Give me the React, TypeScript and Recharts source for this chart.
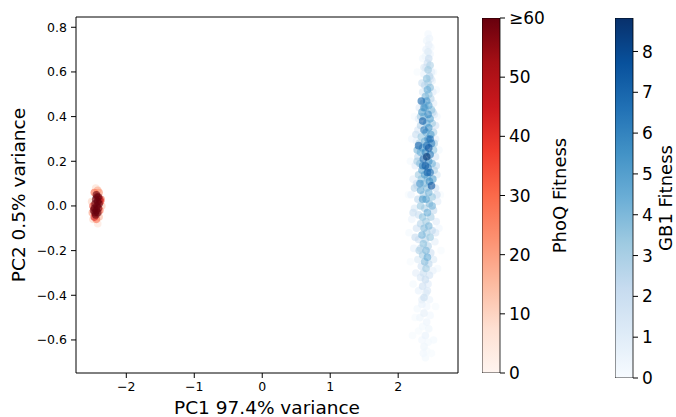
import { ScatterChart, Scatter, XAxis, YAxis, ReferenceArea, BarChart, Bar } from "recharts";

// matplotlib "Blues" / "Reds" colormap stops
const BLUES = ["#f7fbff", "#deebf7", "#c6dbef", "#9ecae1", "#6baed6", "#4292c6", "#2171b5", "#08519c", "#08306b"];
const REDS = ["#fff5f0", "#fee0d2", "#fcbba1", "#fc9272", "#fb6a4a", "#ef3b2c", "#cb181d", "#a50f15", "#67000d"];

const X_TICKS = [-2, -1, 0, 1, 2];
const Y_TICKS = [-0.6, -0.4, -0.2, 0, 0.2, 0.4, 0.6, 0.8];
const PHOQ_TICKS = [0, 10, 20, 30, 40, 50, 60];
const GB1_TICKS = [0, 1, 2, 3, 4, 5, 6, 7, 8];
const PHOQ_MAX = 60;
const GB1_MAX = 8.82;

// [pc1, pc2, fitness]
const phoqPoints: [number, number, number][] = [
  [-2.44, 0.05, 70], [-2.41, 0.04, 65], [-2.45, 0.03, 72], [-2.42, 0.02, 80], [-2.46, 0.01, 68],
  [-2.43, 0.0, 75], [-2.4, 0.01, 62], [-2.47, -0.01, 66], [-2.44, -0.02, 78], [-2.46, -0.03, 64],
  [-2.42, -0.03, 61], [-2.45, -0.04, 70], [-2.48, -0.02, 58], [-2.43, 0.04, 55], [-2.39, 0.03, 50],
  [-2.41, -0.01, 57], [-2.38, 0.02, 38], [-2.37, 0.03, 25], [-2.47, 0.06, 30], [-2.42, 0.07, 18],
  [-2.49, 0.0, 35], [-2.5, -0.03, 20], [-2.47, -0.05, 42], [-2.44, -0.06, 28], [-2.4, -0.05, 15],
  [-2.39, -0.02, 30], [-2.51, 0.02, 10], [-2.45, 0.08, 8], [-2.36, 0.0, 12], [-2.49, -0.06, 9],
  [-2.42, -0.08, 6], [-2.4, 0.06, 22],
];

const gb1Upper: [number, number, number][] = [
  [2.44, 0.77, 0.3], [2.46, 0.75, 0.5], [2.42, 0.74, 0.4], [2.45, 0.72, 0.8], [2.48, 0.71, 0.3],
  [2.41, 0.7, 0.6], [2.44, 0.69, 1.2], [2.47, 0.68, 0.5], [2.4, 0.67, 0.4],
  [2.45, 0.66, 2.2], [2.43, 0.64, 1.8], [2.47, 0.63, 2.8], [2.41, 0.62, 1.4], [2.44, 0.61, 3.2],
  [2.49, 0.6, 1.0], [2.38, 0.59, 0.6], [2.46, 0.58, 2.6], [2.42, 0.57, 3.6], [2.5, 0.56, 0.8], [2.44, 0.55, 3.0],
  [2.39, 0.54, 2.4], [2.47, 0.53, 3.8], [2.43, 0.52, 4.4], [2.36, 0.51, 1.2], [2.51, 0.51, 1.0],
  [2.45, 0.5, 3.4], [2.4, 0.49, 4.0], [2.48, 0.48, 2.6], [2.42, 0.47, 5.2], [2.34, 0.47, 6.8],
  [2.52, 0.46, 0.8], [2.37, 0.46, 3.0], [2.45, 0.45, 4.6],
  [2.31, 0.44, 1.0], [2.4, 0.44, 4.2], [2.49, 0.43, 3.6], [2.35, 0.42, 5.0], [2.44, 0.41, 5.8],
  [2.53, 0.41, 1.2], [2.38, 0.4, 3.8], [2.47, 0.39, 4.8], [2.3, 0.39, 0.8], [2.36, 0.38, 7.2],
  [2.42, 0.37, 4.4], [2.5, 0.37, 3.2], [2.33, 0.36, 2.6], [2.45, 0.35, 5.4],
];

const gb1Middle: [number, number, number][] = [
  [2.38, 0.34, 6.2], [2.29, 0.34, 1.4], [2.52, 0.33, 2.8], [2.41, 0.33, 4.6], [2.48, 0.32, 5.0],
  [2.34, 0.31, 3.4], [2.44, 0.3, 5.8], [2.55, 0.3, 0.9], [2.27, 0.29, 0.7], [2.39, 0.29, 4.2],
  [2.49, 0.28, 6.0], [2.31, 0.28, 2.8], [2.3, 0.27, 7.0], [2.45, 0.26, 7.6], [2.36, 0.26, 5.2], [2.42, 0.27, 6.6],
  [2.52, 0.25, 3.6], [2.33, 0.24, 4.4], [2.4, 0.24, 5.8], [2.47, 0.23, 6.4], [2.42, 0.22, 8.6],
  [2.29, 0.22, 2.4], [2.55, 0.22, 1.6], [2.37, 0.21, 6.8], [2.45, 0.2, 5.4], [2.5, 0.19, 4.2],
  [2.32, 0.19, 3.8], [2.4, 0.18, 7.4], [2.25, 0.18, 1.0], [2.44, 0.17, 6.2], [2.35, 0.16, 4.6], [2.53, 0.16, 2.8],
  [2.47, 0.15, 6.6], [2.3, 0.14, 3.2], [2.39, 0.14, 5.0], [2.57, 0.14, 1.2], [2.43, 0.13, 4.4],
  [2.22, 0.12, 0.8], [2.34, 0.12, 3.6], [2.51, 0.12, 4.8], [2.46, 0.11, 5.6], [2.38, 0.1, 4.0],
  [2.49, 0.09, 7.6], [2.28, 0.09, 2.2], [2.42, 0.08, 3.8], [2.55, 0.08, 1.8], [2.33, 0.07, 4.6], [2.45, 0.06, 4.2],
  [2.19, 0.05, 0.6], [2.37, 0.05, 3.0], [2.5, 0.04, 3.4], [2.29, 0.03, 2.4], [2.41, 0.03, 4.8],
  [2.58, 0.02, 0.9], [2.46, 0.01, 3.8], [2.33, 0.0, 3.4], [2.24, -0.01, 1.2], [2.39, -0.01, 2.8],
  [2.52, -0.02, 2.2], [2.43, -0.03, 4.4], [2.3, -0.04, 2.0], [2.48, -0.05, 3.0], [2.36, -0.05, 3.6],
];

const gb1Lower: [number, number, number][] = [
  [2.2, -0.06, 0.5], [2.56, -0.07, 1.0], [2.41, -0.07, 3.2], [2.33, -0.08, 2.6], [2.45, -0.09, 4.0],
  [2.27, -0.1, 1.6], [2.38, -0.1, 3.8], [2.5, -0.11, 2.4], [2.42, -0.12, 2.8], [2.35, -0.13, 4.2],
  [2.47, -0.14, 3.4], [2.3, -0.15, 1.8], [2.4, -0.15, 2.6], [2.54, -0.16, 0.8],
  [2.37, -0.17, 3.6], [2.44, -0.18, 2.6], [2.23, -0.19, 0.6], [2.33, -0.19, 2.2], [2.41, -0.2, 4.0],
  [2.48, -0.21, 1.8], [2.36, -0.22, 3.0], [2.43, -0.23, 4.4], [2.29, -0.24, 1.2], [2.39, -0.25, 3.8],
  [2.45, -0.26, 2.4], [2.34, -0.27, 1.6], [2.41, -0.28, 3.2], [2.51, -0.29, 0.7], [2.37, -0.3, 2.0],
  [2.33, -0.32, 1.4], [2.4, -0.33, 2.2], [2.44, -0.35, 1.0], [2.36, -0.36, 1.8], [2.3, -0.38, 0.6],
  [2.41, -0.39, 1.2], [2.38, -0.41, 2.0], [2.46, -0.42, 0.5],
  [2.35, -0.44, 0.6], [2.42, -0.45, 0.3], [2.28, -0.46, 0.2], [2.38, -0.48, 0.8], [2.47, -0.49, 0.3],
  [2.32, -0.5, 0.4], [2.42, -0.52, 0.5], [2.36, -0.54, 0.2], [2.45, -0.55, 0.4], [2.3, -0.56, 0.1],
  [2.4, -0.58, 0.6], [2.35, -0.6, 0.3], [2.44, -0.61, 0.2], [2.38, -0.63, 0.4], [2.42, -0.65, 0.1],
  [2.37, -0.66, 0.3], [2.4, -0.68, 0.2],
];

// extra mid-fitness points widening the cloud
const gb1Spread: [number, number, number][] = [
  [2.26, 0.32, 2.0], [2.55, 0.36, 1.6], [2.28, 0.2, 3.0], [2.56, 0.18, 2.2], [2.24, 0.08, 2.6],
  [2.57, 0.05, 1.8], [2.22, -0.03, 2.0], [2.55, -0.12, 1.4], [2.25, -0.14, 2.2], [2.52, -0.24, 1.2],
  [2.26, -0.3, 0.9], [2.33, 0.4, 3.0], [2.51, 0.42, 2.4], [2.35, 0.55, 2.0], [2.48, 0.57, 1.6],
  [2.38, 0.62, 1.2], [2.27, 0.1, 1.8], [2.53, 0.28, 3.0], [2.31, -0.2, 2.8], [2.46, -0.31, 1.6],
  [2.43, -0.38, 1.4], [2.35, -0.42, 0.8], [2.28, 0.25, 4.0], [2.5, 0.0, 4.2], [2.32, 0.1, 5.2],
  [2.36, 0.18, 6.0], [2.47, 0.3, 6.8], [2.38, 0.44, 5.6], [2.43, 0.15, 7.0], [2.36, 0.03, 5.0],
];

// faint low-fitness halo around the GB1 cloud
const gb1Halo: [number, number, number][] = [
  [2.18, 0.2, 0.2], [2.2, 0.3, 0.3], [2.15, 0.05, 0.1], [2.16, -0.12, 0.2], [2.18, -0.25, 0.1],
  [2.22, -0.35, 0.2], [2.25, -0.5, 0.1], [2.6, 0.25, 0.2], [2.62, 0.05, 0.1], [2.6, -0.1, 0.3],
  [2.58, -0.28, 0.2], [2.55, -0.45, 0.1], [2.52, -0.6, 0.2], [2.57, 0.4, 0.3], [2.52, 0.6, 0.2],
  [2.36, 0.66, 0.2], [2.24, 0.4, 0.1], [2.63, -0.2, 0.1], [2.21, -0.58, 0.1], [2.49, -0.66, 0.1],
  [2.28, 0.6, 0.1], [2.56, 0.52, 0.2],
];

const hex = (h: string) => [1, 3, 5].map((i) => parseInt(h.slice(i, i + 2), 16));

function cmap(stops: string[], t: number) {
  const c = Math.max(0, Math.min(1, t)) * (stops.length - 1);
  const i = Math.min(Math.floor(c), stops.length - 2);
  const f = c - i;
  const a = hex(stops[i]);
  const b = hex(stops[i + 1]);
  const rgb = a.map((v, k) => Math.round(v + (b[k] - v) * f));
  return `rgb(${rgb.join(",")})`;
}

const toPoints = (arr: [number, number, number][]) =>
  arr.map(([x, y, f]) => ({ x, y, f })).sort((p, q) => p.f - q.f);

const gb1Data = toPoints([...gb1Halo, ...gb1Lower, ...gb1Upper, ...gb1Middle, ...gb1Spread]);
const phoqData = toPoints(phoqPoints);

const makeDot = (stops: string[], vmax: number) => (props: any) => {
  const { cx, cy, payload } = props;
  return <circle cx={cx} cy={cy} r={3.8} fill={cmap(stops, payload.f / vmax)} fillOpacity={0.62} />;
};

const minus = (s: string) => s.replace("-", "\u2212");
const tickStyle = { fontSize: 12.5, fill: "#000" };

function ColorBar({ id, stops, max, ticks, label, left, bottom, width, labelOffset, fmt }: any) {
  return (
    <div style={{ position: "absolute", left, top: 0 }}>
      <BarChart
        width={width}
        height={417}
        data={[{ name: "c", v: max }]}
        margin={{ top: 18, right: 0, bottom, left: 0 }}
        barCategoryGap={0}
      >
        <defs>
          <linearGradient id={id} x1="0" y1="1" x2="0" y2="0">
            {stops.map((c: string, i: number) => (
              <stop key={i} offset={i / (stops.length - 1)} stopColor={c} />
            ))}
          </linearGradient>
        </defs>
        <XAxis dataKey="name" hide />
        <YAxis
          orientation="right"
          type="number"
          domain={[0, max]}
          allowDataOverflow
          ticks={ticks}
          interval={0}
          width={width - 18}
          tickFormatter={fmt}
          tick={{ fontSize: 17, fill: "#000" }}
          tickLine={{ stroke: "#000" }}
          axisLine={false}
          tickSize={5}
          tickMargin={4}
          label={{
            value: label,
            angle: -90,
            position: "insideRight",
            offset: labelOffset,
            fontSize: 18,
            fill: "#000",
            style: { textAnchor: "middle" },
          }}
        />
        <Bar dataKey="v" fill={`url(#${id})`} stroke="#000" strokeWidth={0.8} isAnimationActive={false} />
      </BarChart>
    </div>
  );
}

export default function App() {
  return (
    <div
      style={{
        position: "absolute",
        left: 0,
        top: 0,
        width: 676,
        height: 417,
        background: "#fff",
        fontFamily: "DejaVu Sans",
        overflow: "hidden",
      }}
    >
      <div style={{ position: "absolute", left: 0, top: 0 }}>
        <ScatterChart width={470} height={417} margin={{ top: 17, right: 12, bottom: 0, left: 0 }}>
          <XAxis
            type="number"
            dataKey="x"
            domain={[-2.74, 2.88]}
            allowDataOverflow
            ticks={X_TICKS}
            interval={0}
            height={44}
            tickFormatter={(v) => minus(String(v))}
            tick={tickStyle}
            tickLine={{ stroke: "#000" }}
            axisLine={false}
            tickSize={5}
            tickMargin={4}
            label={{ value: "PC1 97.4% variance", position: "insideBottom", offset: 3, fontSize: 18.5, fill: "#000" }}
          />
          <YAxis
            type="number"
            dataKey="y"
            domain={[-0.748, 0.846]}
            allowDataOverflow
            ticks={Y_TICKS}
            interval={0}
            width={76}
            tickFormatter={(v) => minus(Number(v).toFixed(1))}
            tick={tickStyle}
            tickLine={{ stroke: "#000" }}
            axisLine={false}
            tickSize={5}
            tickMargin={4}
            label={{
              value: "PC2 0.5% variance",
              angle: -90,
              position: "insideLeft",
              offset: 18,
              fontSize: 18.5,
              fill: "#000",
              style: { textAnchor: "middle" },
            }}
          />
          <Scatter data={gb1Data} shape={makeDot(BLUES, GB1_MAX)} isAnimationActive={false} />
          <Scatter data={phoqData} shape={makeDot(REDS, PHOQ_MAX)} isAnimationActive={false} />
          <ReferenceArea x1={-2.74} x2={2.88} y1={-0.748} y2={0.846} fill="none" stroke="#000" strokeOpacity={1} />
        </ScatterChart>
      </div>
      <ColorBar
        id="phoqGrad"
        stops={REDS}
        max={PHOQ_MAX}
        ticks={PHOQ_TICKS}
        label="PhoQ Fitness"
        left={482}
        bottom={44}
        width={100}
        labelOffset={22}
        fmt={(v: number) => (v === 60 ? "\u226560" : String(v))}
      />
      <ColorBar
        id="gb1Grad"
        stops={BLUES}
        max={GB1_MAX}
        ticks={GB1_TICKS}
        label="GB1 Fitness"
        left={615}
        bottom={39}
        width={61}
        labelOffset={10}
        fmt={(v: number) => String(v)}
      />
    </div>
  );
}
